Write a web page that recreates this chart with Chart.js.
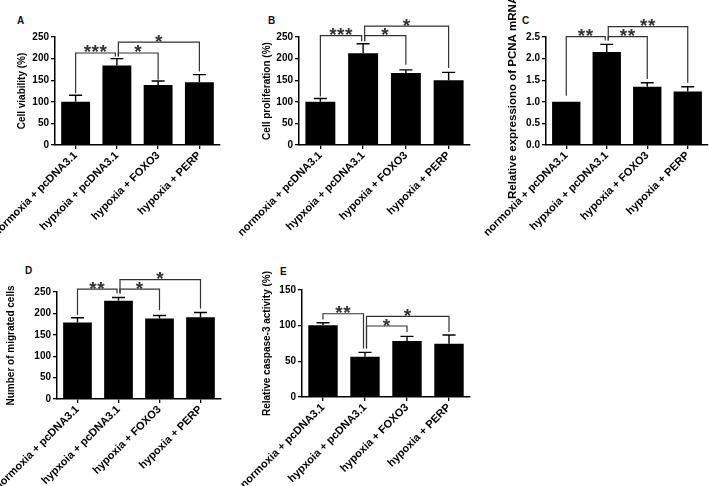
<!DOCTYPE html>
<html>
<head>
<meta charset="utf-8">
<script src="https://cdn.jsdelivr.net/npm/chart.js@4.4.0/dist/chart.umd.min.js"></script>
<style>
  html, body { margin: 0; padding: 0; background: #fff; }
  body { width: 709px; height: 486px; position: relative; overflow: hidden; }
  canvas { position: absolute; }
  .tag { position: absolute; font: bold 10px Arial, "Liberation Sans", sans-serif; line-height: 10px; color: #111; }
</style>
</head>
<body>
<div class="tag" style="left:17px;top:16px">A</div>
<div class="tag" style="left:268px;top:16px">B</div>
<div class="tag" style="left:522px;top:16px">C</div>
<div class="tag" style="left:25px;top:266px">D</div>
<div class="tag" style="left:280px;top:267px">E</div>

<canvas id="panelA"></canvas>
<canvas id="panelB"></canvas>
<canvas id="panelC"></canvas>
<canvas id="panelD"></canvas>
<canvas id="panelE"></canvas>

<script>
// categories (x tick labels, typo kept as in the figure)
const groups = ["normoxia + pcDNA3.1", "hypxoia + pcDNA3.1", "hypoxia + FOXO3", "hypoxia + PERP"]

// A - cell viability (%)
const viabilityMean = [100, 184, 139, 145.5]
const viabilitySd = [15, 16, 9, 17.5]
// brackets: [from, to, top, left leg end, right leg end, stars]
const viabilityBrackets = [[0, 1, 213, 120, 205, "***"], [1, 2, 213, 205, 151, "*"], [1, 3, 238, 205, 170, "*"]]

// B - cell proliferation (%)
const proliferationMean = [100, 212.5, 166.5, 150]
const proliferationSd = [7.5, 22, 7.5, 18]
const proliferationBrackets = [[0, 1, 253, 112, 240, "***"], [1, 2, 253, 240, 186, "*"], [1, 3, 275, 240, 178, "*"]]

// C - relative PCNA mRNA
const pcnaMean = [1.0, 2.15, 1.35, 1.24]
const pcnaSd = [0, 0.18, 0.09, 0.11]
const pcnaBrackets = [[0, 1, 2.51, 1.14, 2.42, "**"], [1, 2, 2.51, 2.42, 1.53, "**"], [1, 3, 2.74, 2.42, 1.44, "**"]]

// D - migrated cells
const migratedMean = [179, 229.5, 188, 191]
const migratedSd = [11, 7.5, 7, 11]
const migratedBrackets = [[0, 1, 256.5, 196, 246.5, "**"], [1, 2, 256.5, 246.5, 207.5, "*"], [1, 3, 279, 246.5, 211.5, "*"]]

// E - caspase-3 activity (%)
const caspaseMean = [100.5, 56.5, 78.5, 74.5]
const caspaseSd = [3.5, 6, 6.5, 12.5]
const caspaseBrackets = [[0, 1, 116.7, 108.8, 68, "**"], [1, 2, 99.5, 68, 91, "*"], [1, 3, 113, 68, 91, "*"]]

const FONT = 'Arial, "Liberation Sans", sans-serif'

/**
 * Draws the upward error bars and the significance brackets
 */
const errorBarsAndBrackets = {
  id: "errorBarsAndBrackets",
  afterDatasetsDraw(chart, args, opts) {
    const { ctx } = chart
    const x = chart.scales.x
    const y = chart.scales.y
    const meta = chart.getDatasetMeta(0)
    const values = chart.data.datasets[0].data

    ctx.save()
    ctx.strokeStyle = "#000"
    ctx.lineWidth = 1.4
    opts.sd.forEach((s, i) => {
      if (!s) return
      const cx = meta.data[i].x
      const yTop = y.getPixelForValue(values[i] + s)
      ctx.beginPath()
      ctx.moveTo(cx, y.getPixelForValue(values[i]))
      ctx.lineTo(cx, yTop)
      ctx.moveTo(cx - 6.5, yTop)
      ctx.lineTo(cx + 6.5, yTop)
      ctx.stroke()
    })

    ctx.strokeStyle = "#333"
    ctx.fillStyle = "#333"
    ctx.lineWidth = 1.2
    ctx.font = "bold 19px " + FONT
    ctx.textAlign = "center"
    ctx.letterSpacing = "0.5px"
    opts.brackets.forEach(([from, to, top, leftEnd, rightEnd, stars]) => {
      const x1 = x.getPixelForValue(from) + (from > 0 ? 1.5 : 0)
      const x2 = x.getPixelForValue(to) - (opts.brackets.some((b) => b[0] === to) ? 1.5 : 0)
      const yT = y.getPixelForValue(top)
      ctx.beginPath()
      ctx.moveTo(x1, y.getPixelForValue(leftEnd))
      ctx.lineTo(x1, yT)
      ctx.lineTo(x2, yT)
      ctx.lineTo(x2, y.getPixelForValue(rightEnd))
      ctx.stroke()
      ctx.fillText(stars, (x1 + x2) / 2, yT + 5.5)
    })
    ctx.restore()
  },
}

/**
 * Build one bar panel
 * box: canvas placement, area: plot-area padding inside the canvas
 */
function makePanel(id, cfg) {
  const canvas = document.getElementById(id)
  canvas.width = cfg.box.width
  canvas.height = cfg.box.height
  canvas.style.left = cfg.box.left + "px"
  canvas.style.top = cfg.box.top + "px"

  return new Chart(canvas.getContext("2d"), {
    type: "bar",
    data: {
      labels: groups,
      datasets: [{
        data: cfg.mean,
        backgroundColor: "#000",
        borderWidth: 0,
        barPercentage: 0.7,
        categoryPercentage: 1,
      }],
    },
    options: {
      responsive: false,
      animation: false,
      devicePixelRatio: 1,
      layout: { padding: { left: 0, top: cfg.area.top, right: cfg.area.right, bottom: 0 } },
      plugins: {
        legend: { display: false },
        tooltip: { enabled: false },
        errorBarsAndBrackets: { sd: cfg.sd, brackets: cfg.brackets },
      },
      scales: {
        x: {
          offset: true,
          grid: { drawOnChartArea: false, drawTicks: true, tickLength: 4, offset: false, color: "#000", lineWidth: 1.3 },
          border: { display: true, color: "#000", width: 1.5 },
          ticks: {
            color: "#000",
            font: { family: FONT, size: 11, weight: "bold" },
            minRotation: 45,
            maxRotation: 45,
            autoSkip: false,
            padding: 0,
          },
          afterFit: (s) => { s.height = cfg.area.bottom },
        },
        y: {
          min: 0,
          max: cfg.yMax,
          grid: { drawOnChartArea: false, drawTicks: true, tickLength: 4, color: "#000", lineWidth: 1.3 },
          border: { display: true, color: "#000", width: 1.5 },
          ticks: {
            stepSize: cfg.yStep,
            color: "#000",
            font: { family: FONT, size: 10, weight: "bold" },
            padding: 2,
            callback: (v) => v.toFixed(cfg.decimals),
          },
          title: {
            display: true,
            text: cfg.title,
            color: "#000",
            font: { family: FONT, size: cfg.titleSize || 10, weight: "bold" },
            padding: { top: cfg.area.titlePad, bottom: 0 },
          },
          afterFit: (s) => { s.width = cfg.area.yWidth },
        },
      },
    },
    plugins: [errorBarsAndBrackets],
  })
}

makePanel("panelA", {
  title: "Cell viability (%)",
  mean: viabilityMean, sd: viabilitySd, brackets: viabilityBrackets,
  yMax: 250, yStep: 50, decimals: 0,
  box: { left: -35, top: 0, width: 260, height: 240 },
  area: { top: 37, bottom: 95, right: 5, yWidth: 90, titlePad: 51 },
})

makePanel("panelB", {
  title: "Cell proliferation (%)",
  mean: proliferationMean, sd: proliferationSd, brackets: proliferationBrackets,
  yMax: 250, yStep: 50, decimals: 0,
  box: { left: 209, top: 0, width: 266, height: 240 },
  area: { top: 37, bottom: 95, right: 5, yWidth: 90, titlePad: 52 },
})

// the C title sits a little lower than the axis centre in the figure: trailing spaces push it down
makePanel("panelC", {
  title: "Relative expressiono of PCNA mRNA\u00a0\u00a0\u00a0\u00a0",
  titleSize: 11.5,
  mean: pcnaMean, sd: pcnaSd, brackets: pcnaBrackets,
  yMax: 2.5, yStep: 0.5, decimals: 1,
  box: { left: 456, top: 0, width: 253, height: 240 },
  area: { top: 37, bottom: 95, right: 1, yWidth: 90, titlePad: 50 },
})

makePanel("panelD", {
  title: "Number of migrated cells",
  mean: migratedMean, sd: migratedSd, brackets: migratedBrackets,
  yMax: 250, yStep: 50, decimals: 0,
  box: { left: -33, top: 250, width: 259, height: 236 },
  area: { top: 42, bottom: 87, right: 5, yWidth: 90, titlePad: 38 },
})

makePanel("panelE", {
  title: "Relative caspase-3 activity (%)",
  mean: caspaseMean, sd: caspaseSd, brackets: caspaseBrackets,
  yMax: 150, yStep: 50, decimals: 0,
  box: { left: 212, top: 250, width: 263, height: 236 },
  area: { top: 40, bottom: 89, right: 5, yWidth: 90, titlePad: 49 },
})
</script>
</body>
</html>
